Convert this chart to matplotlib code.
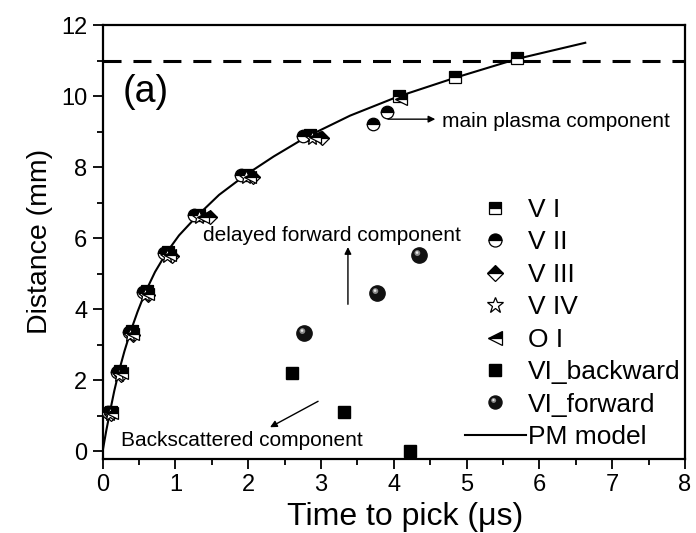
import numpy as np
import matplotlib
matplotlib.use("Agg")
import matplotlib.pyplot as plt
from matplotlib.path import Path
from matplotlib.lines import Line2D
from matplotlib.legend_handler import HandlerTuple

plt.rcParams['font.family'] = ['Liberation Sans', 'DejaVu Sans']

# ---------------- data ----------------
v1_t = [0.12, 0.24, 0.40, 0.61, 0.90, 1.33, 1.98, 2.85, 4.07, 4.84, 5.69]
v1_d = [1.12, 2.25, 3.38, 4.50, 5.60, 6.65, 7.78, 8.90, 10.00, 10.53, 11.07]

v2_t = [0.08, 0.20, 0.36, 0.56, 0.85, 1.25, 1.90, 2.75, 3.72, 3.90]
v2_d = [1.12, 2.23, 3.35, 4.48, 5.58, 6.65, 7.78, 8.88, 9.21, 9.55]

v3_t = [0.12, 0.25, 0.42, 0.62, 0.95, 1.48, 2.07, 3.02]
v3_d = [1.05, 2.15, 3.28, 4.40, 5.50, 6.60, 7.72, 8.82]

v4_t = [0.10, 0.22, 0.38, 0.58, 0.88, 1.32, 1.97, 2.88]
v4_d = [1.05, 2.15, 3.28, 4.40, 5.50, 6.60, 7.72, 8.82]

o1_t = [0.13, 0.26, 0.42, 0.63, 0.93, 1.38, 2.02, 2.92, 4.10]
o1_d = [1.08, 2.20, 3.30, 4.43, 5.52, 6.60, 7.72, 8.85, 9.92]

back_t = [2.60, 3.32, 4.22]
back_d = [2.20, 1.10, 0.00]

fwd_t = [2.77, 3.77, 4.35]
fwd_d = [3.32, 4.45, 5.52]

pm_t = [0, 0.05, 0.10, 0.16, 0.22, 0.30, 0.38, 0.48, 0.58, 0.72, 0.88, 1.05,
        1.30, 1.60, 1.95, 2.35, 2.80, 3.40, 4.05, 4.85, 5.70, 6.63]
pm_d = [0, 0.58, 1.10, 1.70, 2.22, 2.82, 3.35, 3.93, 4.45, 5.05, 5.60, 6.08,
        6.63, 7.22, 7.76, 8.30, 8.85, 9.45, 9.98, 10.52, 11.05, 11.50]

limit_d = 11.0

labels = ['V I', 'V II', 'V III', 'V IV', 'O I', 'VI_backward', 'VI_forward', 'PM model']

# ---------------- figure ----------------
fig = plt.figure(figsize=(6.96, 5.33), dpi=100)
ax = fig.add_axes([102.6/696, 1-458.5/533, (685-102.6)/696, (458.5-25)/533])

ax.axhline(limit_d, color='black', lw=2.2, ls=(0, (5.9, 3.9)), zorder=1)
pm_line, = ax.plot(pm_t, pm_d, color='black', lw=1.5, zorder=2)

common = dict(ls='none', markeredgecolor='black', markerfacecolor='black',
              markerfacecoloralt='white', fillstyle='top', markeredgewidth=0.9, zorder=3)
star_style = dict(marker='*', ls='none', markeredgecolor='black',
                  markerfacecolor='white', markeredgewidth=0.9, zorder=3)
ax.plot(v1_t, v1_d, marker='s', ms=8, **common)
ax.plot(v2_t, v2_d, marker='o', ms=9, **common)
ax.plot(v3_t, v3_d, marker='D', ms=7, **common)
ax.plot(v4_t, v4_d, ms=10, **star_style)
ax.plot(o1_t, o1_d, marker='<', ms=9, **common)
ax.plot(back_t, back_d, marker='s', ms=9, ls='none', color='black', zorder=3)


def offset_circle(cx, cy, r):
    c = Path.circle((cx, cy), r)
    resc = np.max(np.abs(c.vertices))
    return Path(c.vertices, c.codes), resc


p1, r1 = offset_circle(-0.28, 0.32, 0.38)
p2, r2 = offset_circle(-0.32, 0.38, 0.17)


def sphere(x, y, ms):
    a, = ax.plot(x, y, marker='o', ms=ms, ls='none', color='#111111', zorder=3)
    b, = ax.plot(x, y, marker=p1, ms=ms*r1, ls='none', color='#8a8a8a',
                 markeredgewidth=0, zorder=4)
    c, = ax.plot(x, y, marker=p2, ms=ms*r2, ls='none', color='#e8e8e8',
                 markeredgewidth=0, zorder=5)
    return (a, b, c)


sphere(fwd_t, fwd_d, 11)

ax.set_xlim(0, 8)
ax.set_ylim(-0.2, 12)
ax.set_xticks(np.arange(0, 9, 1))
ax.set_xticks(np.arange(0.5, 8, 1), minor=True)
ax.set_yticks(np.arange(0, 13, 2))
ax.set_yticks(np.arange(1, 12, 2), minor=True)
ax.tick_params(which='major', direction='out', length=7, width=1.3, labelsize=17,
               top=False, right=False, pad=4)
ax.tick_params(which='minor', direction='out', length=4, width=1.3, top=False, right=False)
for s in ax.spines.values():
    s.set_linewidth(1.6)

ax.set_xlabel('Time to pick (μs)', fontsize=23, labelpad=0)
ax.xaxis.set_label_coords((405-102.6)/582.4, -0.101)
ax.set_ylabel('Distance (mm)', fontsize=20.5, labelpad=6)

# annotations
ax.text(0.28, 9.83, '(a)', fontsize=27, va='baseline', ha='left')
arrow = dict(arrowstyle='-|>', color='black', lw=1.0, mutation_scale=10, shrinkA=0, shrinkB=0)
ax.annotate('', xy=(4.57, 9.35), xytext=(3.92, 9.35), arrowprops=arrow)
ax.text(4.66, 9.13, 'main plasma component', fontsize=15, va='baseline', ha='left')
ax.annotate('', xy=(3.37, 5.75), xytext=(3.37, 4.14), arrowprops=arrow)
ax.text(1.38, 5.92, 'delayed forward component', fontsize=15, va='baseline', ha='left')
ax.annotate('', xy=(2.30, 0.68), xytext=(2.96, 1.41), arrowprops=arrow)
ax.text(0.25, 0.14, 'Backscattered component', fontsize=15, va='baseline', ha='left')

# legend proxies (slightly larger markers, as in the reference legend)
lg_sph = sphere([], [], 9.4)
handles = [
    Line2D([], [], marker='s', ms=9.2, **common),
    Line2D([], [], marker='o', ms=9.4, **common),
    Line2D([], [], marker='D', ms=8.0, **common),
    Line2D([], [], ms=12, **star_style),
    Line2D([], [], marker='<', ms=9.6, **common),
    Line2D([], [], marker='s', ms=8.8, ls='none', color='black'),
    lg_sph,
    Line2D([], [], color='black', lw=1.5),
]
leg = ax.legend(handles, labels, handler_map={tuple: HandlerTuple(ndivide=1, pad=0)},
                loc='upper left', bbox_to_anchor=((465-102.6)/582.4, (458.5-198)/433.5),
                bbox_transform=ax.transAxes, frameon=False, fontsize=19,
                borderpad=0, borderaxespad=0, handlelength=2.3, handletextpad=0.1,
                labelspacing=0.32, markerscale=1.0)

fig.savefig('out.png', dpi=100)
